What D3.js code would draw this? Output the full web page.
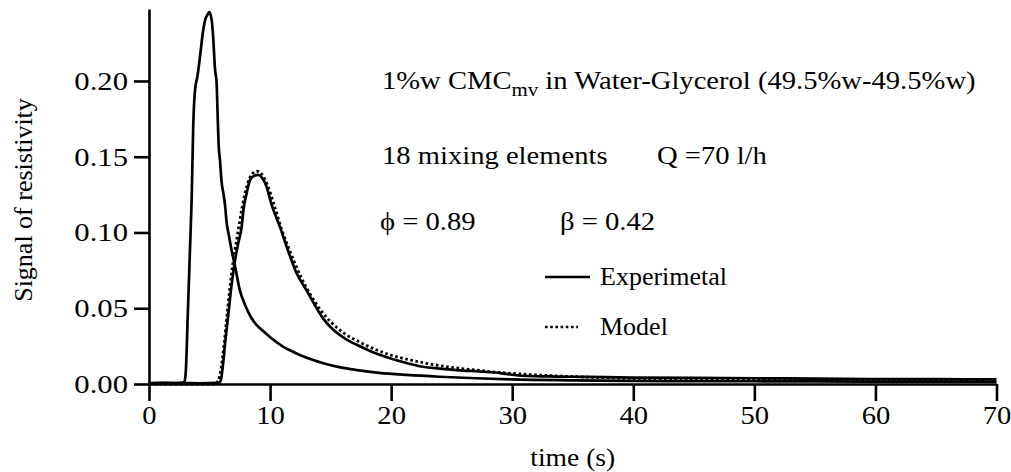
<!DOCTYPE html>
<html>
<head>
<meta charset="utf-8">
<script src="https://cdn.jsdelivr.net/npm/d3@7/dist/d3.min.js"></script>
<style>
  html, body { margin: 0; padding: 0; background: #fff; }
  svg { display: block; }
  text { font-family: "Liberation Serif", "Times New Roman", serif; fill: #000; }
</style>
</head>
<body>
<svg id="chart" width="1011" height="472"></svg>
<script>
// Inlet (first) residence-time signal, experimental
const inletTime = [0, 1, 2, 2.8, 2.95, 3.05, 3.2, 3.39, 3.52, 3.66, 3.8, 4.0, 4.15, 4.3, 4.43, 4.63, 4.85, 4.98,
  5.18, 5.3, 5.45, 5.59, 5.66, 5.75, 5.86, 6.0, 6.14, 6.28, 6.42, 6.6, 6.83, 7.1, 7.5, 8.0, 8.4, 9.0, 9.5,
  10.3, 11.0, 11.6, 12.5, 13.5, 14.4, 15.8, 17.2, 19.0, 21.3, 24.0, 27.0, 30.0, 35.0, 40.0, 45.0, 50.0,
  55.0, 60.0, 65.0, 70.0];
const inletSignal = [0.0005, 0.0008, 0.0006, 0.001, 0.002, 0.01, 0.045, 0.09, 0.121, 0.172, 0.194, 0.203, 0.212, 0.222,
  0.231, 0.240, 0.244, 0.2455, 0.240, 0.229, 0.208, 0.198, 0.18, 0.158, 0.148, 0.133, 0.126, 0.118, 0.106,
  0.098, 0.088, 0.078, 0.062, 0.051, 0.0444, 0.038, 0.0345, 0.029, 0.025, 0.0224, 0.019, 0.016, 0.0137, 0.011,
  0.0092, 0.0074, 0.006, 0.0048, 0.0038, 0.003, 0.0024, 0.002, 0.0019, 0.0018, 0.0017, 0.0016, 0.0016, 0.0015];

// Outlet (second) signal, experimental
const outletTime = [0, 2, 4, 5.8, 5.95, 6.1, 6.3, 6.55, 6.8, 7.0, 7.2, 7.4, 7.66, 7.8, 8.07, 8.34, 8.7, 9.03,
  9.35, 9.72, 10.1, 10.8, 11.37, 12.2, 13.0, 13.7, 14.4, 15.2, 16.2, 17.2, 18.5, 19.9, 21.2, 22.6, 24.0,
  25.4, 27.6, 29.0, 30.5, 33.0, 36.0, 40.0, 45.0, 50.0, 55.0, 60.0, 65.0, 70.0];
const outletSignal = [0.0005, 0.0006, 0.0005, 0.0008, 0.003, 0.012, 0.028, 0.046, 0.064, 0.076, 0.086, 0.094, 0.104,
  0.115, 0.126, 0.1346, 0.1375, 0.138, 0.136, 0.130, 0.119, 0.104, 0.0906, 0.073, 0.062, 0.052, 0.043,
  0.036, 0.030, 0.0257, 0.021, 0.017, 0.014, 0.0114, 0.0102, 0.0092, 0.0081, 0.0072, 0.0056, 0.005,
  0.0047, 0.0042, 0.004, 0.0038, 0.0035, 0.0033, 0.0032, 0.003];

// Model fit of the outlet signal
const modelTime = [0, 5.4, 5.7, 5.9, 6.2, 6.5, 6.9, 7.3, 7.7, 8.1, 8.5, 8.9, 9.3, 9.8, 10.3, 11.0, 11.7, 12.5,
  13.3, 14.2, 15.2, 16.2, 17.2, 18.5, 20.0, 21.5, 23.0, 25.0, 27.0, 29.0, 32.0, 36.0, 40.0, 45.0, 50.0,
  55.0, 60.0, 65.0, 70.0];
const modelSignal = [0, 0, 0.002, 0.008, 0.026, 0.05, 0.078, 0.098, 0.117, 0.131, 0.1385, 0.1405, 0.1385, 0.131,
  0.119, 0.101, 0.0865, 0.0715, 0.0595, 0.0485, 0.0395, 0.033, 0.0285, 0.0235, 0.019, 0.016, 0.0135, 0.011,
  0.0092, 0.0076, 0.006, 0.0046, 0.0036, 0.003, 0.0025, 0.0022, 0.002, 0.0019, 0.0018];

const xTicks = [0, 10, 20, 30, 40, 50, 60, 70];
const yTicks = [0, 0.05, 0.10, 0.15, 0.20];

const svg = d3.select("#chart");
const FONT = 26;
const STRETCH = 1.1;   // the typeface is set a little wide

// widen a text element horizontally about its own anchor point
function widen(sel, k) {
  sel.each(function () {
    const t = d3.select(this);
    const ax = +t.attr("x") || 0;
    t.attr("transform", `translate(${ax},0) scale(${k},1) translate(${-ax},0)`);
  });
}

const x = d3.scaleLinear().domain([0, 70]).range([149, 996.5]);
const y = d3.scaleLinear().domain([0, 0.2475]).range([384, 9]);

// Axes
const xAxis = d3.axisBottom(x).tickValues(xTicks).tickFormat(d3.format("d"))
  .tickSize(17).tickSizeOuter(0).tickPadding(5);
const yAxis = d3.axisLeft(y).tickValues(yTicks).tickFormat(d3.format(".2f"))
  .tickSize(15).tickSizeOuter(0).tickPadding(6);

const gx = svg.append("g").attr("transform", "translate(0,384)").call(xAxis);
const gy = svg.append("g").attr("transform", "translate(149,0)").call(yAxis);
[gx, gy].forEach(g => {
  g.select(".domain").attr("stroke", "#000").attr("stroke-width", 2.6);
  g.selectAll(".tick line").attr("stroke", "#000").attr("stroke-width", 2.6);
  g.selectAll(".tick text").attr("font-size", FONT).attr("fill", "#000")
    .style("font-family", '"Liberation Serif", serif');
});
widen(gx.selectAll(".tick text"), STRETCH);
widen(gy.selectAll(".tick text"), 1.18);

// Curves
const line = d3.line().x(d => x(d[0])).y(d => y(d[1])).curve(d3.curveMonotoneX);
const zip = (t, v) => t.map((ti, i) => [ti, v[i]]);

const curves = svg.append("g").attr("fill", "none").attr("stroke", "#000")
  .attr("stroke-linejoin", "round");
curves.append("path").attr("d", line(zip(inletTime, inletSignal))).attr("stroke-width", 2.7);
curves.append("path").attr("d", line(zip(outletTime, outletSignal))).attr("stroke-width", 2.7);
curves.append("path").attr("d", line(zip(modelTime, modelSignal)))
  .attr("stroke-width", 2.8).attr("stroke-dasharray", "2.6 2.6");

// Axis titles
const xt = svg.append("text").attr("x", (x.range()[0] + x.range()[1]) / 2).attr("y", 466)
  .attr("text-anchor", "middle").attr("font-size", FONT).text("time (s)");
widen(xt, 1.06);
svg.append("text").attr("transform", "translate(32,200) rotate(-90)")
  .attr("text-anchor", "middle").attr("font-size", FONT).text("Signal of resistivity");

// Annotations
const notes = svg.append("g");
const t1 = notes.append("text").attr("x", 382).attr("y", 89).attr("font-size", FONT);
t1.append("tspan").text("1%w CMC");
t1.append("tspan").attr("font-size", 19).attr("dy", 7).text("mv");
t1.append("tspan").attr("dy", -7).text(" in Water-Glycerol (49.5%w-49.5%w)");

notes.append("text").attr("x", 382).attr("y", 164).attr("font-size", FONT).text("18 mixing elements");
notes.append("text").attr("x", 657).attr("y", 164).attr("font-size", FONT).text("Q =70 l/h");
notes.append("text").attr("x", 380).attr("y", 230).attr("font-size", FONT).text("\u03D5 = 0.89");
notes.append("text").attr("x", 560).attr("y", 230).attr("font-size", FONT).text("\u03B2 = 0.42");
widen(notes.selectAll("text"), STRETCH);

// Legend
const legend = [
  { label: "Experimetal", dash: null, yc: 277 },
  { label: "Model", dash: "2.6 2.6", yc: 327 }
];
legend.forEach(l => {
  svg.append("line").attr("x1", 545).attr("x2", l.dash ? 578 : 590)
    .attr("y1", l.yc).attr("y2", l.yc).attr("stroke", "#000").attr("stroke-width", 2.6)
    .attr("stroke-dasharray", l.dash);
  svg.append("text").attr("x", 600).attr("y", l.yc + 8).attr("font-size", FONT).text(l.label);
});
</script>
</body>
</html>
